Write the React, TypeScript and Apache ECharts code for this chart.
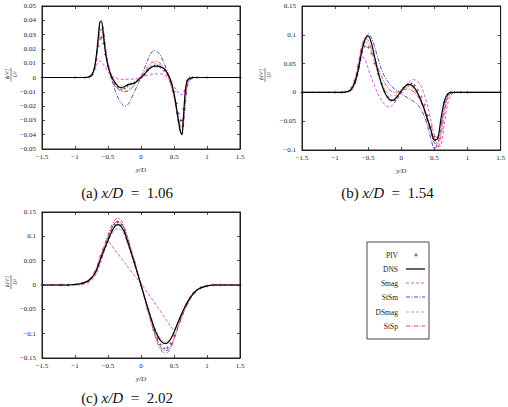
import React, { useEffect, useRef } from "react";
import * as echarts from "echarts";

const SERIF = '"Liberation Serif", "Times New Roman", serif';

// ---- panel (a): x/D = 1.06 ----
const xA = [-1.5, -1.0, -0.85, -0.78, -0.74, -0.7, -0.67, -0.64, -0.62, -0.6, -0.57, -0.54, -0.5, -0.45, -0.4, -0.35, -0.3, -0.25, -0.2, -0.15, -0.1, -0.05, 0, 0.05, 0.1, 0.15, 0.2, 0.25, 0.3, 0.35, 0.4, 0.45, 0.5, 0.54, 0.57, 0.6, 0.62, 0.64, 0.67, 0.7, 0.74, 0.78, 0.85, 1.0, 1.5];
const pivA = [0, 0, 0, 0.0005, 0.002, 0.006, 0.013, 0.022, 0.027, 0.028, 0.024, 0.016, 0.008, 0.0, -0.005, -0.007, -0.008, -0.0075, -0.006, -0.0045, -0.0035, -0.002, 0, 0.002, 0.005, 0.007, 0.008, 0.008, 0.007, 0.005, 0.002, -0.003, -0.01, -0.018, -0.025, -0.03, -0.03, -0.022, -0.009, -0.002, -0.0005, 0, 0, 0, 0];
const dnsA = [0, 0, 0, 0.0005, 0.002, 0.008, 0.018, 0.032, 0.039, 0.039, 0.03, 0.018, 0.008, 0.001, -0.003, -0.006, -0.007, -0.0065, -0.005, -0.0045, -0.004, -0.002, 0, 0.002, 0.005, 0.007, 0.008, 0.008, 0.0075, 0.006, 0.003, -0.002, -0.011, -0.022, -0.031, -0.038, -0.04, -0.03, -0.01, -0.002, -0.0005, 0, 0, 0, 0];
const smagA = [0, 0, 0, 0.001, 0.003, 0.006, 0.009, 0.011, 0.0115, 0.011, 0.009, 0.007, 0.004, 0.0015, 0, -0.001, -0.0012, -0.0013, -0.0013, -0.0012, -0.001, -0.0005, 0, 0.0008, 0.0015, 0.002, 0.0025, 0.0025, 0.0025, 0.002, 0.0, -0.003, -0.006, -0.009, -0.011, -0.012, -0.012, -0.011, -0.008, -0.004, -0.0015, -0.0005, 0, 0, 0];
const stsmA = [0, 0, 0, 0.0005, 0.002, 0.007, 0.016, 0.03, 0.039, 0.04, 0.034, 0.022, 0.01, 0, -0.008, -0.014, -0.018, -0.02, -0.019, -0.015, -0.01, -0.005, 0, 0.006, 0.012, 0.017, 0.019, 0.018, 0.015, 0.01, 0.004, -0.003, -0.013, -0.024, -0.033, -0.039, -0.04, -0.035, -0.02, -0.007, -0.002, -0.0005, 0, 0, 0];
const dsmagA = [0, 0, 0, 0.0005, 0.002, 0.007, 0.015, 0.027, 0.032, 0.033, 0.029, 0.02, 0.01, 0.002, -0.004, -0.007, -0.009, -0.0095, -0.009, -0.007, -0.005, -0.0025, 0, 0.003, 0.006, 0.008, 0.0095, 0.0095, 0.0085, 0.006, 0.002, -0.005, -0.014, -0.023, -0.03, -0.034, -0.034, -0.028, -0.014, -0.004, -0.001, 0, 0, 0, 0];
const stspA = [0, 0, 0, 0.0005, 0.002, 0.007, 0.016, 0.028, 0.033, 0.034, 0.028, 0.018, 0.008, 0.0, -0.005, -0.008, -0.0095, -0.01, -0.0095, -0.008, -0.005, -0.002, 0.001, 0.004, 0.007, 0.01, 0.011, 0.011, 0.0095, 0.007, 0.003, -0.004, -0.013, -0.022, -0.03, -0.034, -0.035, -0.03, -0.016, -0.005, -0.001, 0, 0, 0, 0];

// ---- panel (b): x/D = 1.54 ----
const xB = [-1.5, -1.0, -0.9, -0.8, -0.75, -0.7, -0.65, -0.6, -0.55, -0.5, -0.45, -0.4, -0.35, -0.3, -0.25, -0.2, -0.15, -0.1, -0.05, 0, 0.05, 0.1, 0.15, 0.2, 0.25, 0.3, 0.35, 0.4, 0.45, 0.5, 0.55, 0.6, 0.65, 0.7, 0.75, 0.8, 0.9, 1.0, 1.5];
const pivB = [0, 0, 0, 0.002, 0.008, 0.02, 0.045, 0.07, 0.08, 0.078, 0.068, 0.05, 0.032, 0.015, 0.002, -0.008, -0.014, -0.014, -0.008, 0.0, 0.008, 0.013, 0.015, 0.012, 0.004, -0.008, -0.022, -0.04, -0.06, -0.076, -0.078, -0.05, -0.018, -0.004, 0, 0, 0, 0, 0];
const dnsB = [0, 0, 0, 0.002, 0.006, 0.018, 0.04, 0.07, 0.092, 0.098, 0.085, 0.06, 0.035, 0.015, 0.0, -0.01, -0.014, -0.012, -0.005, 0.003, 0.01, 0.014, 0.013, 0.008, -0.002, -0.015, -0.03, -0.048, -0.066, -0.083, -0.08, -0.045, -0.015, -0.003, 0, 0, 0, 0, 0];
const smagB = [0, 0, 0, 0.002, 0.008, 0.022, 0.045, 0.062, 0.058, 0.042, 0.025, 0.01, -0.003, -0.013, -0.021, -0.025, -0.024, -0.018, -0.009, 0.0, 0.009, 0.016, 0.021, 0.022, 0.019, 0.01, -0.005, -0.025, -0.05, -0.075, -0.095, -0.092, -0.055, -0.02, -0.005, 0, 0, 0, 0];
const stsmB = [0, 0, 0, 0.001, 0.004, 0.014, 0.035, 0.065, 0.09, 0.102, 0.095, 0.078, 0.058, 0.04, 0.027, 0.018, 0.011, 0.006, 0.002, -0.002, -0.006, -0.01, -0.013, -0.017, -0.022, -0.03, -0.042, -0.06, -0.082, -0.098, -0.09, -0.06, -0.025, -0.006, -0.001, 0, 0, 0, 0];
const dsmagB = [0, 0, 0, 0.002, 0.007, 0.02, 0.045, 0.075, 0.088, 0.085, 0.07, 0.05, 0.032, 0.017, 0.006, -0.002, -0.006, -0.006, -0.002, 0.003, 0.008, 0.01, 0.009, 0.004, -0.004, -0.016, -0.03, -0.048, -0.067, -0.082, -0.088, -0.065, -0.028, -0.007, -0.001, 0, 0, 0, 0];
const stspB = [0, 0, 0, 0.002, 0.008, 0.022, 0.05, 0.08, 0.094, 0.09, 0.075, 0.058, 0.042, 0.028, 0.016, 0.007, 0.002, 0.0, 0.001, 0.003, 0.005, 0.006, 0.004, 0.0, -0.007, -0.018, -0.033, -0.052, -0.072, -0.088, -0.095, -0.075, -0.035, -0.01, -0.002, 0, 0, 0, 0];

// ---- panel (c): x/D = 2.02 ----
const xC = [-1.5, -1.2, -1.1, -1.0, -0.9, -0.8, -0.7, -0.6, -0.5, -0.45, -0.4, -0.35, -0.3, -0.25, -0.2, -0.1, 0, 0.1, 0.2, 0.25, 0.3, 0.35, 0.4, 0.45, 0.5, 0.6, 0.7, 0.8, 0.9, 1.0, 1.1, 1.2, 1.5];
const pivC = [0, 0, 0, 0.001, 0.003, 0.008, 0.024, 0.06, 0.095, 0.112, 0.124, 0.128, 0.124, 0.112, 0.092, 0.047, 0, -0.048, -0.093, -0.11, -0.123, -0.13, -0.129, -0.12, -0.104, -0.068, -0.038, -0.017, -0.006, -0.002, 0, 0, 0];
const dnsC = [0, 0, 0, 0.001, 0.003, 0.008, 0.023, 0.058, 0.092, 0.108, 0.12, 0.124, 0.12, 0.108, 0.088, 0.045, 0, -0.046, -0.088, -0.104, -0.115, -0.12, -0.119, -0.111, -0.097, -0.064, -0.036, -0.016, -0.006, -0.002, 0, 0, 0];
const smagC = [0, 0, 0, 0, 0.001, 0.005, 0.018, 0.05, 0.09, 0.082, 0.073, 0.064, 0.055, 0.046, 0.037, 0.02, 0.003, -0.016, -0.035, -0.045, -0.055, -0.065, -0.075, -0.085, -0.093, -0.064, -0.034, -0.014, -0.005, -0.001, 0, 0, 0];
const stsmC = [0, 0, 0, 0.001, 0.003, 0.008, 0.024, 0.061, 0.097, 0.115, 0.127, 0.131, 0.127, 0.114, 0.093, 0.048, 0, -0.05, -0.096, -0.115, -0.128, -0.135, -0.134, -0.126, -0.109, -0.072, -0.04, -0.018, -0.007, -0.002, 0, 0, 0];
const dsmagC = [0, 0, 0, 0.001, 0.003, 0.008, 0.023, 0.056, 0.087, 0.102, 0.113, 0.116, 0.113, 0.101, 0.083, 0.043, 0, -0.044, -0.084, -0.1, -0.11, -0.116, -0.116, -0.109, -0.096, -0.064, -0.036, -0.016, -0.006, -0.002, 0, 0, 0];
const stspC = [0, 0, 0, 0.001, 0.004, 0.01, 0.028, 0.066, 0.103, 0.121, 0.133, 0.137, 0.133, 0.119, 0.097, 0.05, 0, -0.051, -0.099, -0.119, -0.133, -0.14, -0.139, -0.13, -0.112, -0.072, -0.039, -0.017, -0.006, -0.002, 0, 0, 0];

const captions = ["(a) ", "(b) ", "(c) "];
const stations = ["1.06", "1.54", "2.02"];
const yRanges = [
  [-0.05, 0.05, 0.01],
  [-0.1, 0.15, 0.05],
  [-0.15, 0.15, 0.05],
];
const legendNames = ["PIV", "DNS", "Smag", "StSm", "DSmag", "StSp"];

const lineLook: Record<string, { color: string; width: number; dash: any }> = {
  DNS: { color: "#000000", width: 1.2, dash: "solid" },
  Smag: { color: "#e03ce0", width: 0.9, dash: [3, 2] },
  StSm: { color: "#3a3ac8", width: 0.9, dash: [4, 1.5, 1, 1.5] },
  DSmag: { color: "#c48a8a", width: 0.9, dash: [3, 2] },
  StSp: { color: "#e8323c", width: 0.9, dash: [4, 1.5, 1, 1.5] },
};

const PLUS = "path://M0.42,0H0.58V0.42H1V0.58H0.58V1H0.42V0.58H0V0.42H0.42Z";

const panelData = [
  { x: xA, PIV: pivA, DNS: dnsA, Smag: smagA, StSm: stsmA, DSmag: dsmagA, StSp: stspA },
  { x: xB, PIV: pivB, DNS: dnsB, Smag: smagB, StSm: stsmB, DSmag: dsmagB, StSp: stspB },
  { x: xC, PIV: pivC, DNS: dnsC, Smag: smagC, StSm: stsmC, DSmag: dsmagC, StSp: stspC },
];

// plot frames in pixels
const frames = [
  { left: 42, top: 6, width: 198, height: 143 },
  { left: 302, top: 6, width: 199, height: 144 },
  { left: 42, top: 212, width: 198, height: 146 },
];

const fmt = (v: number) => {
  const r = Math.round(v * 1000) / 1000;
  return String(r === 0 ? 0 : r).replace("-", "\u2212");
};

const AX = "#222";

function buildOption() {
  const grid: any[] = [];
  const xAxis: any[] = [];
  const yAxis: any[] = [];
  const series: any[] = [];
  const graphic: any[] = [];

  frames.forEach((f, i) => {
    grid.push({ ...f, show: true, borderColor: AX, borderWidth: 1, backgroundColor: "transparent" });
    const common = {
      gridIndex: i,
      type: "value",
      axisLine: { show: true, onZero: false, lineStyle: { color: AX, width: 1 } },
      axisTick: { show: true, inside: true, length: 3, lineStyle: { color: AX, width: 0.8 } },
      splitLine: { show: false },
    };
    xAxis.push({
      ...common,
      min: -1.5,
      max: 1.5,
      interval: 0.5,
      position: "bottom",
      axisLabel: { fontSize: 7, fontFamily: SERIF, color: AX, margin: 4, formatter: fmt },
      name: "y/D",
      nameLocation: "middle",
      nameGap: 17,
      nameTextStyle: { fontSize: 7, fontStyle: "italic", fontFamily: SERIF, color: AX },
    });
    xAxis.push({
      ...common,
      min: -1.5,
      max: 1.5,
      interval: 0.5,
      position: "top",
      axisLabel: { show: false },
    });
    const [ymin, ymax, yint] = yRanges[i];
    yAxis.push({
      ...common,
      min: ymin,
      max: ymax,
      interval: yint,
      position: "left",
      axisLabel: { fontSize: 7, fontFamily: SERIF, color: AX, margin: 6, formatter: fmt },
    });
    yAxis.push({
      ...common,
      min: ymin,
      max: ymax,
      interval: yint,
      position: "right",
      axisLabel: { show: false },
    });

    const p: any = panelData[i];
    ["Smag", "StSm", "DSmag", "StSp", "DNS"].forEach((name) => {
      const look = lineLook[name];
      series.push({
        type: "line",
        name,
        xAxisIndex: 2 * i,
        yAxisIndex: 2 * i,
        data: p.x.map((x: number, k: number) => [x, p[name][k]]),
        showSymbol: false,
        symbol: "none",
        smooth: 0.3,
        silent: true,
        lineStyle: { color: look.color, width: look.width, type: look.dash },
      });
    });
    series.push({
      type: "scatter",
      name: "PIV",
      xAxisIndex: 2 * i,
      yAxisIndex: 2 * i,
      data: p.x.map((x: number, k: number) => [x, p.PIV[k]]),
      symbol: PLUS,
      symbolSize: 3.2,
      silent: true,
      itemStyle: { color: "#000" },
    });

    // caption below each panel
    const cx = f.left + f.width / 2 - 14;
    const cy = i === 2 ? 398 : 193;
    graphic.push({
      type: "text",
      x: cx,
      y: cy,
      style: {
        text: `{n|${captions[i]}}{i|x/D}{n|  =  ${stations[i]}}`,
        align: "center",
        verticalAlign: "middle",
        rich: {
          n: { fontSize: 15, fontFamily: SERIF, fill: "#111" },
          i: { fontSize: 15, fontFamily: SERIF, fontStyle: "italic", fill: "#111" },
        },
      },
    });

    // rotated y label (fraction)
    const lx = i === 1 ? 265 : 11;
    const ly = f.top + f.height / 2 - 3;
    graphic.push({
      type: "group",
      x: lx,
      y: ly,
      rotation: Math.PI / 2,
      children: [
        {
          type: "text",
          x: 0,
          y: -0.6,
          style: { text: "\u27e8u\u2032v\u2032\u27e9", fontSize: 5.5, fontFamily: SERIF, fontStyle: "italic", fill: "#333", align: "center", verticalAlign: "bottom" },
        },
        { type: "line", shape: { x1: -7, y1: 0, x2: 7, y2: 0 }, style: { stroke: "#333", lineWidth: 0.6 } },
        {
          type: "text",
          x: 0,
          y: 0.8,
          style: { text: "U\u00b2", fontSize: 5.5, fontFamily: SERIF, fontStyle: "italic", fill: "#333", align: "center", verticalAlign: "top" },
        },
      ],
    });
  });

  // key box
  const box = { x: 367, y: 242, w: 62, h: 97 };
  const rowsY = [255, 269, 283, 297, 312, 326];
  const legendChildren: any[] = [
    { type: "rect", shape: { x: box.x, y: box.y, width: box.w, height: box.h }, style: { fill: "#fff", stroke: "#444", lineWidth: 1 } },
  ];
  legendNames.forEach((name, r) => {
    const y = rowsY[r];
    legendChildren.push({
      type: "text",
      x: 398,
      y,
      style: { text: name, fontSize: 7.5, fontFamily: SERIF, fill: "#222", align: "right", verticalAlign: "middle" },
    });
    if (name === "PIV") {
      legendChildren.push({ type: "line", shape: { x1: 414.5, y1: y, x2: 417.5, y2: y }, style: { stroke: "#000", lineWidth: 0.7 } });
      legendChildren.push({ type: "line", shape: { x1: 416, y1: y - 1.5, x2: 416, y2: y + 1.5 }, style: { stroke: "#000", lineWidth: 0.7 } });
    } else {
      const look = lineLook[name];
      legendChildren.push({
        type: "line",
        shape: { x1: 406, y1: y, x2: 425, y2: y },
        style: { stroke: look.color, lineWidth: look.width, lineDash: look.dash === "solid" ? null : look.dash },
      });
    }
  });
  graphic.push({ type: "group", children: legendChildren, z: 10 });

  return {
    animation: false,
    backgroundColor: "#ffffff",
    grid,
    xAxis,
    yAxis,
    series,
    graphic,
  };
}

export default function App() {
  const ref = useRef<HTMLDivElement>(null);
  useEffect(() => {
    document.body.style.margin = "0";
    if (!ref.current) return;
    const chart = echarts.init(ref.current, null, { renderer: "svg" });
    chart.setOption(buildOption() as any);
    return () => chart.dispose();
  }, []);
  return <div ref={ref} style={{ width: 508, height: 407 }} />;
}
